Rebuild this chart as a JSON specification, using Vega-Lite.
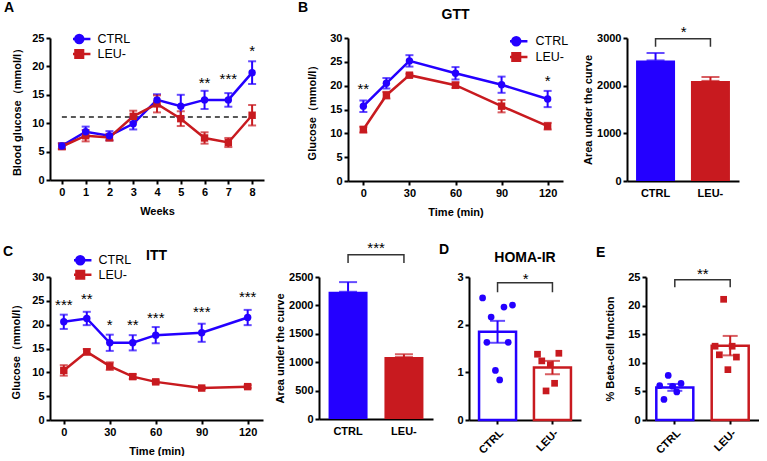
{
  "$schema": "https://vega.github.io/schema/vega-lite/v6.json",
  "padding": {"left": 3, "top": 1, "right": 0, "bottom": 0},
  "spacing": 23,
  "resolve": {"scale": {"color": "independent", "shape": "independent"}, "legend": {"color": "independent", "shape": "independent"}},
  "vconcat": [
    {
      "spacing": 34,
      "resolve": {"scale": {"color": "independent", "shape": "independent"}, "legend": {"color": "independent", "shape": "independent"}},
      "hconcat": [
        {
          "width": 214, "height": 142,
          "title": {"text": "A", "anchor": "start", "frame": "group", "fontSize": 14, "dx": -46, "dy": -13},
          "data": {"values": [
            {"t": 0, "g": "CTRL", "v": 6.0, "sem": 0.5}, {"t": 1, "g": "CTRL", "v": 8.5, "sem": 0.9}, {"t": 2, "g": "CTRL", "v": 7.8, "sem": 0.8},
            {"t": 3, "g": "CTRL", "v": 9.9, "sem": 1.0}, {"t": 4, "g": "CTRL", "v": 14.1, "sem": 1.0}, {"t": 5, "g": "CTRL", "v": 13.0, "sem": 2.0},
            {"t": 6, "g": "CTRL", "v": 14.1, "sem": 1.6}, {"t": 7, "g": "CTRL", "v": 14.1, "sem": 1.2}, {"t": 8, "g": "CTRL", "v": 18.9, "sem": 2.0},
            {"t": 0, "g": "LEU-", "v": 5.9, "sem": 0.5}, {"t": 1, "g": "LEU-", "v": 7.8, "sem": 1.0}, {"t": 2, "g": "LEU-", "v": 7.5, "sem": 0.6},
            {"t": 3, "g": "LEU-", "v": 11.2, "sem": 1.0}, {"t": 4, "g": "LEU-", "v": 13.4, "sem": 1.5}, {"t": 5, "g": "LEU-", "v": 10.8, "sem": 1.3},
            {"t": 6, "g": "LEU-", "v": 7.4, "sem": 1.0}, {"t": 7, "g": "LEU-", "v": 6.6, "sem": 0.8}, {"t": 8, "g": "LEU-", "v": 11.4, "sem": 1.8}
          ]},
          "encoding": {
            "x": {"field": "t", "type": "quantitative", "scale": {"domain": [-0.5, 8.5], "nice": false, "zero": false}, "axis": {"values": [0, 1, 2, 3, 4, 5, 6, 7, 8], "title": "Weeks", "titlePadding": 8}},
            "y": {"field": "v", "type": "quantitative", "scale": {"domain": [0, 25], "nice": false}, "axis": {"values": [0, 5, 10, 15, 20, 25], "title": "Blood glucose（mmol/l）", "titlePadding": 9}},
            "color": {"field": "g", "type": "nominal", "scale": {"domain": ["CTRL", "LEU-"], "range": ["#2400ff", "#c81a1f"]},
              "legend": {"orient": "none", "legendX": 23, "legendY": -5.3, "title": null, "labelFontSize": 12.5, "labelColor": "#000", "labelOffset": 12, "symbolSize": 64, "clipHeight": 12.5, "rowPadding": 2,
                "encode": {"symbols": {"update": {"shape": {"signal": "datum.value === 'CTRL' ? 'M-2.8,0H2.8M-1,0A1,1 0 1,1 1,0A1,1 0 1,1 -1,0Z' : 'M-2.8,0H2.8M-0.95,-0.95H0.95V0.95H-0.95Z'"}, "size": {"value": 64}, "fill": {"signal": "datum.value === 'CTRL' ? '#2400ff' : '#c81a1f'"}, "stroke": {"signal": "datum.value === 'CTRL' ? '#2400ff' : '#c81a1f'"}, "strokeWidth": {"value": 2.5}, "opacity": {"value": 1}}}}}}
          },
          "layer": [
            {"data": {"values": [{"t": 0, "t2": 8, "v": 11.1}]}, "mark": {"type": "rule", "strokeDash": [5, 4], "strokeWidth": 1.5}, "encoding": {"x2": {"field": "t2"}, "color": {"value": "#222"}}},
            {"mark": {"type": "line", "strokeWidth": 2.5}},
            {"mark": {"type": "errorbar", "ticks": {"size": 8}, "thickness": 2}, "encoding": {"yError": {"field": "sem"}}},
            {"transform": [{"filter": "datum.g === 'LEU-'"}], "mark": {"type": "point", "shape": "square", "filled": true, "size": 55, "opacity": 1}},
            {"transform": [{"filter": "datum.g === 'CTRL'"}], "mark": {"type": "point", "shape": "circle", "filled": true, "size": 55, "opacity": 1}},
            {"data": {"values": [{"t": 6, "v": 17.5, "s": "**"}, {"t": 7, "v": 18.1, "s": "***"}, {"t": 8, "v": 23.0, "s": "*"}]}, "mark": {"type": "text", "fontSize": 15, "baseline": "alphabetic", "dy": 7}, "encoding": {"text": {"field": "s"}, "color": {"value": "#000"}}}
          ]
        },
        {
          "title": {"text": "B", "anchor": "start", "frame": "group", "fontSize": 14, "dx": -50, "dy": 11},
          "spacing": 13,
          "resolve": {"scale": {"color": "independent", "shape": "independent"}, "legend": {"color": "independent", "shape": "independent"}},
          "hconcat": [
            {
              "width": 215, "height": 143,
              "title": {"text": "GTT", "anchor": "middle", "frame": "group", "fontSize": 14, "dy": -6},
              "data": {"values": [
                {"t": 0, "g": "CTRL", "v": 15.7, "sem": 1.2}, {"t": 15, "g": "CTRL", "v": 20.5, "sem": 1.1}, {"t": 30, "g": "CTRL", "v": 25.2, "sem": 1.2},
                {"t": 60, "g": "CTRL", "v": 22.6, "sem": 1.3}, {"t": 90, "g": "CTRL", "v": 20.2, "sem": 1.7}, {"t": 120, "g": "CTRL", "v": 17.2, "sem": 1.7},
                {"t": 0, "g": "LEU-", "v": 10.8, "sem": 0.6}, {"t": 15, "g": "LEU-", "v": 18.0, "sem": 0.7}, {"t": 30, "g": "LEU-", "v": 22.2, "sem": 0.3},
                {"t": 60, "g": "LEU-", "v": 20.1, "sem": 0.6}, {"t": 90, "g": "LEU-", "v": 15.7, "sem": 1.3}, {"t": 120, "g": "LEU-", "v": 11.5, "sem": 0.7}
              ]},
              "encoding": {
                "x": {"field": "t", "type": "quantitative", "scale": {"domain": [-10, 130], "nice": false, "zero": false}, "axis": {"values": [0, 30, 60, 90, 120], "title": "Time (min)", "titlePadding": 8}},
                "y": {"field": "v", "type": "quantitative", "scale": {"domain": [0, 30], "nice": false}, "axis": {"values": [0, 5, 10, 15, 20, 25, 30], "title": "Glucose（mmol/l）", "titlePadding": 12}},
                "color": {"field": "g", "type": "nominal", "scale": {"domain": ["CTRL", "LEU-"], "range": ["#2400ff", "#c81a1f"]},
                  "legend": {"orient": "none", "legendX": 162, "legendY": -3.2, "title": null, "labelFontSize": 12.5, "labelColor": "#000", "labelOffset": 13, "symbolSize": 64, "clipHeight": 13, "rowPadding": 2.7,
                    "encode": {"symbols": {"update": {"shape": {"signal": "datum.value === 'CTRL' ? 'M-2.8,0H2.8M-1,0A1,1 0 1,1 1,0A1,1 0 1,1 -1,0Z' : 'M-2.8,0H2.8M-0.95,-0.95H0.95V0.95H-0.95Z'"}, "size": {"value": 64}, "fill": {"signal": "datum.value === 'CTRL' ? '#2400ff' : '#c81a1f'"}, "stroke": {"signal": "datum.value === 'CTRL' ? '#2400ff' : '#c81a1f'"}, "strokeWidth": {"value": 2.5}, "opacity": {"value": 1}}}}}}
              },
              "layer": [
                {"mark": {"type": "line", "strokeWidth": 2.5}},
                {"mark": {"type": "errorbar", "ticks": {"size": 8}, "thickness": 2}, "encoding": {"yError": {"field": "sem"}}},
                {"transform": [{"filter": "datum.g === 'LEU-'"}], "mark": {"type": "point", "shape": "square", "filled": true, "size": 55, "opacity": 1}},
                {"transform": [{"filter": "datum.g === 'CTRL'"}], "mark": {"type": "point", "shape": "circle", "filled": true, "size": 55, "opacity": 1}},
                {"data": {"values": [{"t": 0, "v": 19.8, "s": "**"}, {"t": 120, "v": 21.4, "s": "*"}]}, "mark": {"type": "text", "fontSize": 15, "baseline": "alphabetic", "dy": 7}, "encoding": {"text": {"field": "s"}, "color": {"value": "#000"}}}
              ]
            },
            {
              "width": 112, "height": 143,
              "data": {"values": [{"g": "CTRL", "v": 2530, "hi": 2685}, {"g": "LEU-", "v": 2100, "hi": 2182}]},
              "encoding": {
                "x": {"field": "g", "type": "nominal", "scale": {"type": "band", "domain": ["CTRL", "LEU-"], "paddingInner": 0.3, "paddingOuter": 0.17}, "axis": {"title": null, "labelAngle": 0, "ticks": false, "labelPadding": 6}},
                "y": {"field": "v", "type": "quantitative", "scale": {"domain": [0, 3000], "nice": false}, "axis": {"values": [0, 1000, 2000, 3000], "format": "d", "title": "Area under the curve", "titlePadding": 3}},
                "color": {"field": "g", "type": "nominal", "scale": {"domain": ["CTRL", "LEU-"], "range": ["#2400ff", "#c81a1f"]}, "legend": null}
              },
              "layer": [
                {"mark": {"type": "bar", "width": 39}},
                {"mark": {"type": "errorbar", "ticks": {"size": 18}, "thickness": 2}, "encoding": {"y2": {"field": "hi"}}},
                {"data": {"values": [{"g": "CTRL", "v": 2818, "k": 1}, {"g": "CTRL", "v": 2985, "k": 2}, {"g": "LEU-", "v": 2985, "k": 3}, {"g": "LEU-", "v": 2818, "k": 4}]}, "mark": {"type": "line", "strokeWidth": 1.5}, "encoding": {"order": {"field": "k"}, "color": {"value": "#333"}}},
                {"data": {"values": [{"g": "CTRL", "v": 3162, "s": "*"}]}, "mark": {"type": "text", "fontSize": 15, "baseline": "alphabetic", "dy": 7, "dx": 28}, "encoding": {"text": {"field": "s"}, "color": {"value": "#000"}}}
              ]
            }
          ]
        }
      ]
    },
    {
      "spacing": 6,
      "resolve": {"scale": {"color": "independent", "shape": "independent"}, "legend": {"color": "independent", "shape": "independent"}},
      "hconcat": [
        {
          "title": {"text": "C", "anchor": "start", "frame": "group", "fontSize": 14, "dx": -47, "dy": 22},
          "spacing": 11,
          "resolve": {"scale": {"color": "independent", "shape": "independent"}, "legend": {"color": "independent", "shape": "independent"}},
          "hconcat": [
            {
              "width": 213, "height": 143,
              "title": {"text": "ITT", "anchor": "middle", "frame": "group", "fontSize": 14, "dy": 13},
              "data": {"values": [
                {"t": 0, "g": "CTRL", "v": 20.6, "sem": 1.5}, {"t": 15, "g": "CTRL", "v": 21.3, "sem": 1.4}, {"t": 30, "g": "CTRL", "v": 16.2, "sem": 1.7},
                {"t": 45, "g": "CTRL", "v": 16.2, "sem": 1.6}, {"t": 60, "g": "CTRL", "v": 17.8, "sem": 1.7}, {"t": 90, "g": "CTRL", "v": 18.3, "sem": 1.9},
                {"t": 120, "g": "CTRL", "v": 21.5, "sem": 1.6},
                {"t": 0, "g": "LEU-", "v": 10.4, "sem": 1.1}, {"t": 15, "g": "LEU-", "v": 14.3, "sem": 0.6}, {"t": 30, "g": "LEU-", "v": 11.3, "sem": 0.8},
                {"t": 45, "g": "LEU-", "v": 9.1, "sem": 0.5}, {"t": 60, "g": "LEU-", "v": 8.0, "sem": 0.3}, {"t": 90, "g": "LEU-", "v": 6.7, "sem": 0.2},
                {"t": 120, "g": "LEU-", "v": 7.0, "sem": 0.3}
              ]},
              "encoding": {
                "x": {"field": "t", "type": "quantitative", "scale": {"domain": [-9, 130], "nice": false, "zero": false}, "axis": {"values": [0, 30, 60, 90, 120], "title": "Time (min)", "titlePadding": 8}},
                "y": {"field": "v", "type": "quantitative", "scale": {"domain": [0, 30], "nice": false}, "axis": {"values": [0, 5, 10, 15, 20, 25, 30], "title": "Glucose（mmol/l）", "titlePadding": 10}},
                "color": {"field": "g", "type": "nominal", "scale": {"domain": ["CTRL", "LEU-"], "range": ["#2400ff", "#c81a1f"]},
                  "legend": {"orient": "none", "legendX": 24, "legendY": -23, "title": null, "labelFontSize": 12.5, "labelColor": "#000", "labelOffset": 12, "symbolSize": 64, "clipHeight": 12.5, "rowPadding": 1.5,
                    "encode": {"symbols": {"update": {"shape": {"signal": "datum.value === 'CTRL' ? 'M-2.8,0H2.8M-1,0A1,1 0 1,1 1,0A1,1 0 1,1 -1,0Z' : 'M-2.8,0H2.8M-0.95,-0.95H0.95V0.95H-0.95Z'"}, "size": {"value": 64}, "fill": {"signal": "datum.value === 'CTRL' ? '#2400ff' : '#c81a1f'"}, "stroke": {"signal": "datum.value === 'CTRL' ? '#2400ff' : '#c81a1f'"}, "strokeWidth": {"value": 2.5}, "opacity": {"value": 1}}}}}}
              },
              "layer": [
                {"mark": {"type": "line", "strokeWidth": 2.5}},
                {"mark": {"type": "errorbar", "ticks": {"size": 8}, "thickness": 2}, "encoding": {"yError": {"field": "sem"}}},
                {"transform": [{"filter": "datum.g === 'LEU-'"}], "mark": {"type": "point", "shape": "square", "filled": true, "size": 55, "opacity": 1}},
                {"transform": [{"filter": "datum.g === 'CTRL'"}], "mark": {"type": "point", "shape": "circle", "filled": true, "size": 55, "opacity": 1}},
                {"data": {"values": [{"t": 0, "v": 24.5, "s": "***"}, {"t": 15, "v": 25.7, "s": "**"}, {"t": 30, "v": 20.3, "s": "*"}, {"t": 45, "v": 20.3, "s": "**"}, {"t": 60, "v": 21.8, "s": "***"}, {"t": 90, "v": 23.0, "s": "***"}, {"t": 120, "v": 26.2, "s": "***"}]}, "mark": {"type": "text", "fontSize": 15, "baseline": "alphabetic", "dy": 7}, "encoding": {"text": {"field": "s"}, "color": {"value": "#000"}}}
              ]
            },
            {
              "width": 114, "height": 142,
              "data": {"values": [{"g": "CTRL", "v": 2240, "hi": 2410}, {"g": "LEU-", "v": 1090, "hi": 1140}]},
              "encoding": {
                "x": {"field": "g", "type": "nominal", "scale": {"type": "band", "domain": ["CTRL", "LEU-"], "paddingInner": 0.3, "paddingOuter": 0.17}, "axis": {"title": null, "labelAngle": 0, "ticks": false, "labelPadding": 6}},
                "y": {"field": "v", "type": "quantitative", "scale": {"domain": [0, 2500], "nice": false}, "axis": {"values": [0, 500, 1000, 1500, 2000, 2500], "format": "d", "title": "Area under the curve", "titlePadding": 3}},
                "color": {"field": "g", "type": "nominal", "scale": {"domain": ["CTRL", "LEU-"], "range": ["#2400ff", "#c81a1f"]}, "legend": null}
              },
              "layer": [
                {"mark": {"type": "bar", "width": 39}},
                {"mark": {"type": "errorbar", "ticks": {"size": 18}, "thickness": 2}, "encoding": {"y2": {"field": "hi"}}},
                {"data": {"values": [{"g": "CTRL", "v": 2746, "k": 1}, {"g": "CTRL", "v": 2893, "k": 2}, {"g": "LEU-", "v": 2893, "k": 3}, {"g": "LEU-", "v": 2746, "k": 4}]}, "mark": {"type": "line", "strokeWidth": 1.5}, "encoding": {"order": {"field": "k"}, "color": {"value": "#333"}}},
                {"data": {"values": [{"g": "CTRL", "v": 3046, "s": "***"}]}, "mark": {"type": "text", "fontSize": 15, "baseline": "alphabetic", "dy": 7, "dx": 28}, "encoding": {"text": {"field": "s"}, "color": {"value": "#000"}}}
              ]
            }
          ]
        },
        {
          "title": {"text": "D", "anchor": "start", "frame": "group", "fontSize": 14, "dx": -30, "dy": 15},
          "spacing": 15,
          "resolve": {"scale": {"color": "independent", "shape": "independent"}, "legend": {"color": "independent", "shape": "independent"}},
          "hconcat": [
            {
              "width": 112, "height": 143,
              "title": {"text": "HOMA-IR", "anchor": "middle", "frame": "group", "fontSize": 14, "dy": -2},
              "encoding": {
                "x": {"field": "g", "type": "nominal", "scale": {"type": "band", "domain": ["CTRL", "LEU-"], "paddingInner": 0.3, "paddingOuter": 0.17}, "axis": {"title": null, "labelAngle": -45, "labelPadding": 3}},
                "y": {"field": "v", "type": "quantitative", "scale": {"domain": [0, 3], "nice": false}, "axis": {"values": [0, 1, 2, 3], "title": null}},
                "color": {"field": "g", "type": "nominal", "scale": {"domain": ["CTRL", "LEU-"], "range": ["#2400ff", "#c81a1f"]}, "legend": null}
              },
              "layer": [
                {"data": {"values": [{"g": "CTRL", "v": 1.85, "sem": 0.23}, {"g": "LEU-", "v": 1.10, "sem": 0.14}]}, "mark": {"type": "bar", "filled": false, "strokeWidth": 2.5, "width": 37}},
                {"data": {"values": [{"g": "CTRL", "v": 1.85, "sem": 0.23}, {"g": "LEU-", "v": 1.10, "sem": 0.14}]}, "mark": {"type": "errorbar", "ticks": {"size": 15}, "thickness": 2}, "encoding": {"yError": {"field": "sem"}}},
                {"data": {"values": [
                  {"g": "CTRL", "rep": "1", "v": 2.56}, {"g": "CTRL", "rep": "2", "v": 1.63}, {"g": "CTRL", "rep": "3", "v": 2.16}, {"g": "CTRL", "rep": "4", "v": 1.04},
                  {"g": "CTRL", "rep": "5", "v": 0.84}, {"g": "CTRL", "rep": "6", "v": 2.37}, {"g": "CTRL", "rep": "7", "v": 1.63}, {"g": "CTRL", "rep": "8", "v": 2.41},
                  {"g": "LEU-", "rep": "1", "v": 1.38}, {"g": "LEU-", "rep": "2", "v": 1.24}, {"g": "LEU-", "rep": "3", "v": 0.61}, {"g": "LEU-", "rep": "4", "v": 1.16},
                  {"g": "LEU-", "rep": "5", "v": 0.77}, {"g": "LEU-", "rep": "6", "v": 1.40}
                ]}, "mark": {"type": "point", "filled": true, "size": 45, "opacity": 1},
                 "encoding": {"xOffset": {"field": "rep", "type": "nominal", "scale": {"paddingOuter": 3.5}}, "shape": {"field": "g", "type": "nominal", "scale": {"domain": ["CTRL", "LEU-"], "range": ["circle", "square"]}, "legend": null}}},
                {"data": {"values": [{"g": "CTRL", "v": 2.68, "k": 1}, {"g": "CTRL", "v": 2.88, "k": 2}, {"g": "LEU-", "v": 2.88, "k": 3}, {"g": "LEU-", "v": 2.68, "k": 4}]}, "mark": {"type": "line", "strokeWidth": 1.5}, "encoding": {"order": {"field": "k"}, "color": {"value": "#333"}}},
                {"data": {"values": [{"g": "CTRL", "v": 3.01, "s": "*"}]}, "mark": {"type": "text", "fontSize": 15, "baseline": "alphabetic", "dy": 7, "dx": 28}, "encoding": {"text": {"field": "s"}, "color": {"value": "#000"}}}
              ]
            },
            {
              "width": 113, "height": 143,
              "title": {"text": "E", "anchor": "start", "frame": "group", "fontSize": 14, "dx": -50, "dy": -3},
              "encoding": {
                "x": {"field": "g", "type": "nominal", "scale": {"type": "band", "domain": ["CTRL", "LEU-"], "paddingInner": 0.3, "paddingOuter": 0.17}, "axis": {"title": null, "labelAngle": -45, "labelPadding": 3}},
                "y": {"field": "v", "type": "quantitative", "scale": {"domain": [0, 25], "nice": false}, "axis": {"values": [0, 5, 10, 15, 20, 25], "title": "% Beta-cell function", "titlePadding": 12}},
                "color": {"field": "g", "type": "nominal", "scale": {"domain": ["CTRL", "LEU-"], "range": ["#2400ff", "#c81a1f"]}, "legend": null}
              },
              "layer": [
                {"data": {"values": [{"g": "CTRL", "v": 5.7, "sem": 0.6}, {"g": "LEU-", "v": 13.0, "sem": 1.7}]}, "mark": {"type": "bar", "filled": false, "strokeWidth": 2.5, "width": 37}},
                {"data": {"values": [{"g": "CTRL", "v": 5.7, "sem": 0.6}, {"g": "LEU-", "v": 13.0, "sem": 1.7}]}, "mark": {"type": "errorbar", "ticks": {"size": 15}, "thickness": 2}, "encoding": {"yError": {"field": "sem"}}},
                {"data": {"values": [
                  {"g": "CTRL", "rep": "1", "v": 6.0}, {"g": "CTRL", "rep": "2", "v": 3.6}, {"g": "CTRL", "rep": "3", "v": 7.8}, {"g": "CTRL", "rep": "4", "v": 5.9},
                  {"g": "CTRL", "rep": "5", "v": 4.9}, {"g": "CTRL", "rep": "6", "v": 6.4},
                  {"g": "LEU-", "rep": "1", "v": 12.9}, {"g": "LEU-", "rep": "2", "v": 11.4}, {"g": "LEU-", "rep": "3", "v": 21.1}, {"g": "LEU-", "rep": "4", "v": 8.8},
                  {"g": "LEU-", "rep": "5", "v": 12.9}, {"g": "LEU-", "rep": "6", "v": 11.0}
                ]}, "mark": {"type": "point", "filled": true, "size": 45, "opacity": 1},
                 "encoding": {"xOffset": {"field": "rep", "type": "nominal", "scale": {"paddingOuter": 2.4}}, "shape": {"field": "g", "type": "nominal", "scale": {"domain": ["CTRL", "LEU-"], "range": ["circle", "square"]}, "legend": null}}},
                {"data": {"values": [{"g": "CTRL", "v": 23.2, "k": 1}, {"g": "CTRL", "v": 24.5, "k": 2}, {"g": "LEU-", "v": 24.5, "k": 3}, {"g": "LEU-", "v": 23.2, "k": 4}]}, "mark": {"type": "line", "strokeWidth": 1.5}, "encoding": {"order": {"field": "k"}, "color": {"value": "#333"}}},
                {"data": {"values": [{"g": "CTRL", "v": 25.8, "s": "**"}]}, "mark": {"type": "text", "fontSize": 15, "baseline": "alphabetic", "dy": 7, "dx": 28}, "encoding": {"text": {"field": "s"}, "color": {"value": "#000"}}}
              ]
            }
          ]
        }
      ]
    }
  ],
  "config": {
    "font": "Liberation Sans",
    "view": {"stroke": null},
    "axis": {"domainColor": "#000", "domainWidth": 2, "tickColor": "#000", "tickWidth": 2, "tickSize": 4, "labelFont": "Liberation Sans", "labelFontWeight": "bold", "labelFontSize": 11, "labelColor": "#000", "titleFont": "Liberation Sans", "titleFontWeight": "bold", "titleFontSize": 11, "titleColor": "#000", "grid": false, "labelPadding": 2, "labelFlush": false, "labelOverlap": false},
    "title": {"font": "Liberation Sans", "fontSize": 14, "fontWeight": "bold", "color": "#000"},
    "legend": {"labelFont": "Liberation Sans"}
  }
}
